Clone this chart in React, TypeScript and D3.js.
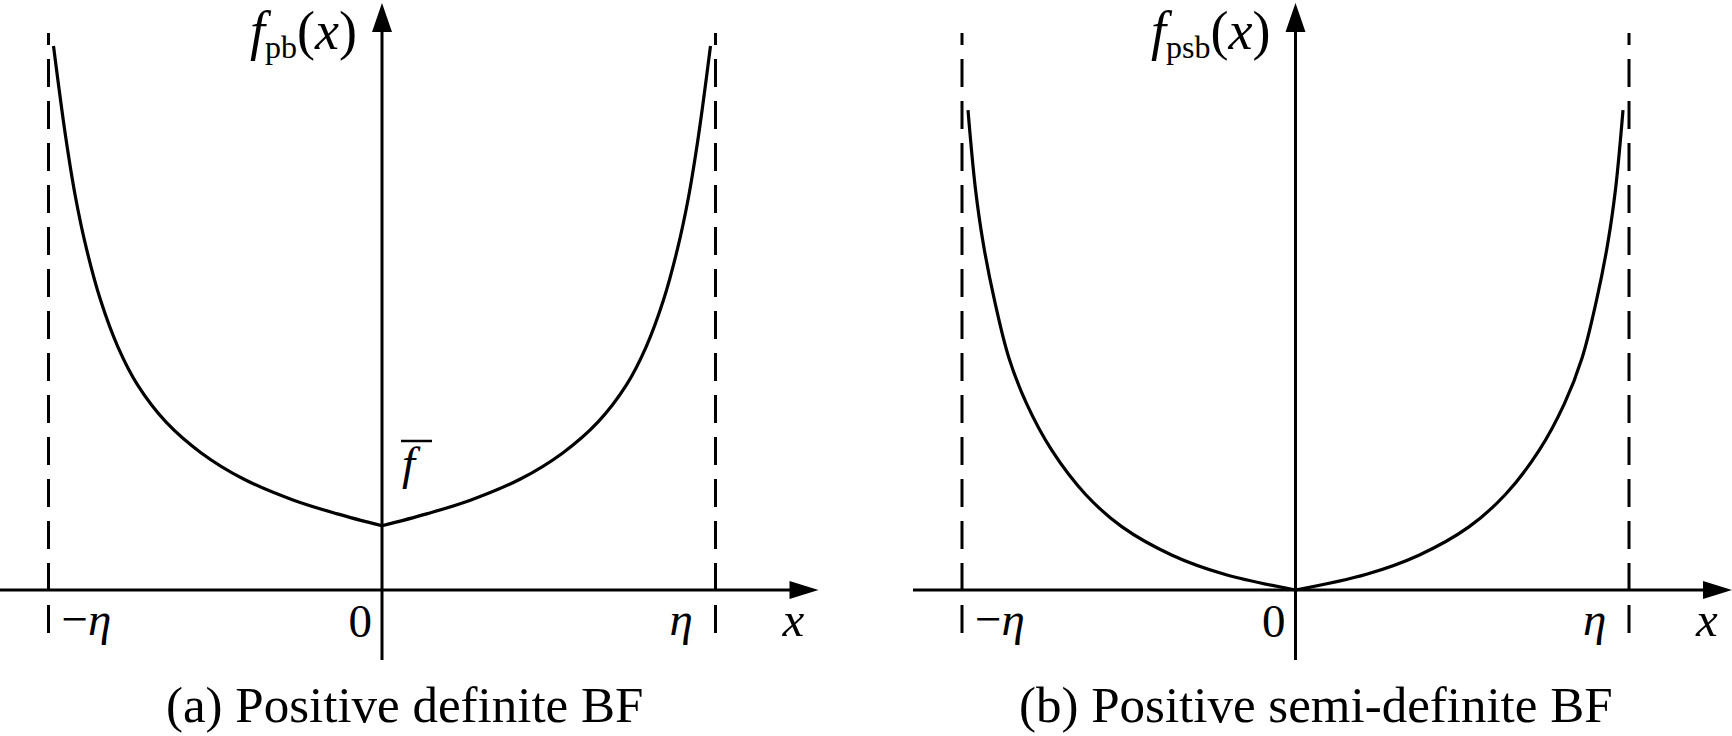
import React from "react";
import * as d3 from "d3";

// Panel (a): positive definite barrier function (x in units of eta, y in units of plot height)
const aLeftX = [-0.985, -0.949, -0.919, -0.886, -0.844, -0.792, -0.733, -0.648, -0.542, -0.415, -0.265, -0.134, 0];
const aLeftY = [1.0, 0.835, 0.722, 0.627, 0.533, 0.447, 0.377, 0.309, 0.252, 0.204, 0.165, 0.14, 0.118];
const aRightX = [0, 0.134, 0.265, 0.415, 0.542, 0.648, 0.733, 0.792, 0.844, 0.886, 0.919, 0.949, 0.985];
const aRightY = [0.118, 0.14, 0.165, 0.204, 0.252, 0.309, 0.377, 0.447, 0.533, 0.627, 0.722, 0.835, 1.0];

// Panel (b): positive semi-definite barrier function
const bLeftX = [-0.982, -0.96, -0.936, -0.902, -0.86, -0.806, -0.73, -0.63, -0.52, -0.37, -0.213, 0];
const bLeftY = [0.882, 0.739, 0.636, 0.531, 0.428, 0.342, 0.256, 0.176, 0.116, 0.064, 0.029, 0];
const bRightX = [0, 0.213, 0.37, 0.52, 0.63, 0.73, 0.806, 0.86, 0.902, 0.936, 0.96, 0.982];
const bRightY = [0, 0.029, 0.064, 0.116, 0.176, 0.256, 0.342, 0.428, 0.531, 0.636, 0.739, 0.882];

const tickLabels = ["−", "η", "0", "η", "x"];
const captions = ["(a) Positive definite BF", "(b) Positive semi-definite BF"];
const ySubs = ["pb", "psb"];
const fbarValue = 0.118;

const FONT = "'Liberation Serif', 'Times New Roman', serif";

type PanelProps = {
  axisX: number;
  eta: number;
  axisStart: number;
  left: [number[], number[]];
  right: [number[], number[]];
  sub: string;
  caption: string;
  captionX: number;
  fbar: boolean;
};

function Panel({ axisX, eta, axisStart, left, right, sub, caption, captionX, fbar }: PanelProps) {
  const x = d3.scaleLinear().domain([-1, 1]).range([axisX - eta, axisX + eta]);
  const y = d3.scaleLinear().domain([0, 1]).range([590, 46]);
  const line = d3
    .line<[number, number]>()
    .x((d) => x(d[0]))
    .y((d) => y(d[1]))
    .curve(d3.curveCatmullRom.alpha(0.5));
  const lp = left[0].map((v, i) => [v, left[1][i]] as [number, number]);
  const rp = right[0].map((v, i) => [v, right[1][i]] as [number, number]);
  const y0 = y(0);
  const xEnd = x(1) + 103;
  return (
    <g>
      {[-1, 1].map((v) => (
        <line key={v} x1={x(v)} x2={x(v)} y1={633} y2={33} stroke="#000" strokeWidth={3} strokeDasharray="28 14" />
      ))}
      <line x1={axisStart} x2={xEnd - 28} y1={y0} y2={y0} stroke="#000" strokeWidth={3} />
      <path d={`M${xEnd},${y0} L${xEnd - 29},${y0 - 9} L${xEnd - 29},${y0 + 9} Z`} fill="#000" />
      <line x1={axisX} x2={axisX} y1={660} y2={30} stroke="#000" strokeWidth={3} />
      <path d={`M${axisX},3 L${axisX - 10},32 L${axisX + 10},32 Z`} fill="#000" />
      <path d={line(lp) || ""} fill="none" stroke="#000" strokeWidth={3.2} strokeLinejoin="round" />
      <path d={line(rp) || ""} fill="none" stroke="#000" strokeWidth={3.2} strokeLinejoin="round" />
      <text x={x(-1) + 13} y={635} fontSize={47} fontFamily={FONT}>
        <tspan>{tickLabels[0]}</tspan>
        <tspan fontStyle="italic">{tickLabels[1]}</tspan>
      </text>
      <text x={x(0) - 10} y={637} fontSize={47} fontFamily={FONT} textAnchor="end">
        {tickLabels[2]}
      </text>
      <text x={x(1) - 46} y={635} fontSize={47} fontFamily={FONT} fontStyle="italic">
        {tickLabels[3]}
      </text>
      <text x={x(1) + 67} y={636} fontSize={49} fontFamily={FONT} fontStyle="italic">
        {tickLabels[4]}
      </text>
      <text x={axisX - 25} y={49} fontSize={54} fontFamily={FONT} textAnchor="end">
        <tspan fontStyle="italic">f</tspan>
        <tspan fontSize={32} dy={9}>{sub}</tspan>
        <tspan dy={-9}>(</tspan>
        <tspan fontStyle="italic">x</tspan>
        <tspan>)</tspan>
      </text>
      {fbar && (
        <g>
          <text x={x(0) + 20} y={y(fbarValue) - 47} fontSize={47} fontFamily={FONT} fontStyle="italic">
            f
          </text>
          <line x1={x(0) + 19} x2={x(0) + 50} y1={441} y2={441} stroke="#000" strokeWidth={2.5} />
        </g>
      )}
      <text x={captionX} y={722} fontSize={51} fontFamily={FONT}>
        {caption}
      </text>
    </g>
  );
}

export default function App() {
  return (
    <svg width={1732} height={736} style={{ position: "absolute", left: 0, top: 0, background: "#fff" }}>
      <rect width={1732} height={736} fill="#fff" />
      <Panel
        axisX={382}
        eta={333.5}
        axisStart={0}
        left={[aLeftX, aLeftY]}
        right={[aRightX, aRightY]}
        sub={ySubs[0]}
        caption={captions[0]}
        captionX={166}
        fbar={true}
      />
      <Panel
        axisX={1295.5}
        eta={333.5}
        axisStart={913}
        left={[bLeftX, bLeftY]}
        right={[bRightX, bRightY]}
        sub={ySubs[1]}
        caption={captions[1]}
        captionX={1019}
        fbar={false}
      />
    </svg>
  );
}
